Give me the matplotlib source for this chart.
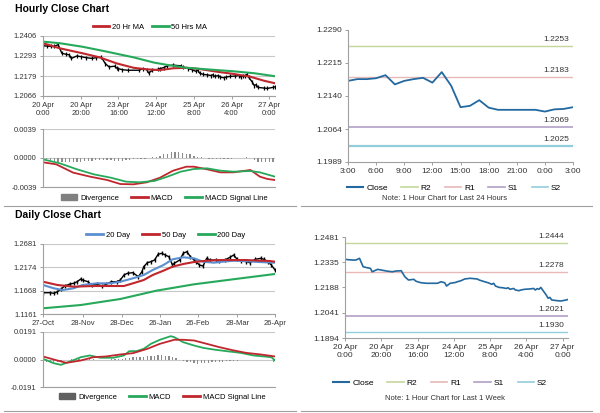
import matplotlib
matplotlib.use('Agg')
import matplotlib.pyplot as plt
from matplotlib.patches import Patch
from matplotlib.lines import Line2D
from matplotlib.ticker import FormatStrFormatter
import numpy as np
import pandas as pd

plt.rcParams['font.family'] = ['Liberation Sans', 'DejaVu Sans']

# ---------------- data: hourly (last week) ----------------
week_hours = [0, 2, 4, 6, 8, 10, 12, 14, 15, 18, 20, 23, 26, 28, 31, 33, 35, 38, 39, 40, 42, 45,
              51, 53, 55, 56, 58, 61, 62, 64, 66, 69, 73, 74, 77, 79, 81, 82, 83, 85, 87, 89,
              90, 91, 93, 94, 96, 97, 99, 102, 104, 105, 106, 107, 108, 109, 111, 112, 113,
              114, 117, 119, 122, 123]
week_close = [1.2351, 1.2349, 1.2347, 1.2347, 1.2357, 1.2308, 1.2303, 1.2299, 1.2279, 1.2293,
              1.2289, 1.2283, 1.2279, 1.2283, 1.2285, 1.2250, 1.2231, 1.2235, 1.2225, 1.2221,
              1.2215, 1.2212, 1.2212, 1.2221, 1.2215, 1.2196, 1.2212, 1.2217, 1.2221, 1.2227,
              1.2237, 1.2241, 1.2237, 1.2231, 1.2221, 1.2215, 1.2206, 1.2212, 1.2196, 1.2188,
              1.2186, 1.2182, 1.2186, 1.2177, 1.2182, 1.2173, 1.2169, 1.2173, 1.2177, 1.2179,
              1.2182, 1.2173, 1.2181, 1.2177, 1.2188, 1.2173, 1.2144, 1.2125, 1.2130, 1.2115,
              1.2111, 1.2109, 1.2115, 1.2118]

ma_hours = [0, 9, 21, 30, 39, 48, 55, 62, 69, 76, 83, 92, 101, 110, 117, 123]
ma20_hr = [1.2365, 1.2336, 1.2308, 1.2285, 1.2251, 1.2226, 1.2217, 1.2213, 1.2223, 1.2226,
           1.2219, 1.2204, 1.2191, 1.2175, 1.2153, 1.2138]
ma50_hours = [0, 9, 21, 34, 48, 59, 66, 76, 87, 101, 112, 123]
ma50_hr = [1.2374, 1.2365, 1.2345, 1.2317, 1.2285, 1.2255, 1.2242, 1.2226, 1.2217, 1.2206,
           1.2195, 1.2178]

macd_h_x = [0, 7, 16, 25, 34, 41, 48, 55, 62, 69, 76, 80, 87, 94, 101, 110, 115, 119, 123]
macd_h = [-0.00058, -0.00085, -0.00197, -0.00251, -0.00296, -0.00350, -0.00354, -0.00327,
          -0.00265, -0.00170, -0.00117, -0.00117, -0.00152, -0.00193, -0.00193, -0.00161,
          -0.00251, -0.00282, -0.00296]
sig_h_x = [0, 9, 18, 27, 36, 44, 51, 59, 66, 73, 80, 87, 94, 101, 110, 115, 123]
sig_h = [-0.00018, -0.00072, -0.00152, -0.00220, -0.00265, -0.00318, -0.00327, -0.00309,
         -0.00251, -0.00184, -0.00148, -0.00139, -0.00170, -0.00184, -0.00175, -0.00193,
         -0.00251]
div_h_x = list(range(0, 124, 2))
div_h = [v * 1e-4 for v in
         [-1, -2, -3, -4, -5, -6, -6, -6, -5, -5, -5, -4, -4, -4, -3, -3, -3, -3, -3, -4, -4,
          -4, -3, -3, -2, -2, -1, -1, 0, 1, 2, 3, 5, 6, 8, 8, 8, 7, 6, 5, 3, 2, 1, 0, -1, -1,
          -1, -1, -1, -1, -1, 0, 0, 0, 1, 0, -3, -5, -6, -6, -6, -5]]

hour_tick_pos = [0, 20, 40, 60, 80, 100, 120]
hour_tick_lbl = ['20 Apr\n0:00', '20 Apr\n20:00', '23 Apr\n16:00', '24 Apr\n12:00',
                 '25 Apr\n8:00', '26 Apr\n4:00', '27 Apr\n0:00']

# ---------------- data: last 24 hours ----------------
close_24h = [1.2174, 1.2178, 1.2178, 1.2180, 1.2187, 1.2166, 1.2174, 1.2178, 1.2181, 1.2170,
             1.2194, 1.2163, 1.2114, 1.2117, 1.2130, 1.2113, 1.2108, 1.2108, 1.2108, 1.2108,
             1.2108, 1.2104, 1.2109, 1.2110, 1.2114]
h24_tick_lbl = ['3:00', '6:00', '9:00', '12:00', '15:00', '18:00', '21:00', '0:00', '3:00']
levels_24h = {'R2': 1.2253, 'R1': 1.2183, 'S1': 1.2069, 'S2': 1.2025}
levels_week = {'R2': 1.2444, 'R1': 1.2278, 'S1': 1.2021, 'S2': 1.1930}

# ---------------- data: daily ----------------
day_x = [0, 4, 6, 8, 10, 12, 15, 17, 19, 21, 22, 25, 27, 30, 33, 35, 38, 41, 43, 45, 47, 50,
         53, 55, 56, 58, 60, 62, 64, 66, 68, 70, 72, 73, 76, 78, 80, 82, 84, 85, 87, 89, 91,
         93, 96, 98, 101, 104, 106, 108, 110, 113, 115, 118, 121, 123, 125, 127, 129]
day_close = [1.1623, 1.1623, 1.1610, 1.1645, 1.1697, 1.1769, 1.1812, 1.1827, 1.1862, 1.1921,
             1.1899, 1.1862, 1.1791, 1.1805, 1.1769, 1.1805, 1.1862, 1.1862, 1.1899, 1.2008,
             1.2045, 1.2058, 1.1971, 1.2080, 1.2188, 1.2275, 1.2297, 1.2333, 1.2457, 1.2479,
             1.2442, 1.2405, 1.2225, 1.2262, 1.2333, 1.2479, 1.2514, 1.2405, 1.2333, 1.2297,
             1.2225, 1.2203, 1.2370, 1.2333, 1.2333, 1.2312, 1.2333, 1.2392, 1.2442, 1.2348,
             1.2318, 1.2297, 1.2275, 1.2348, 1.2370, 1.2348, 1.2297, 1.2225, 1.2116]
ma20_d_x = [0, 6, 11, 17, 22, 30, 37, 43, 50, 56, 61, 67, 72, 78, 84, 89, 95, 100, 106, 111,
            117, 124, 129]
ma20_d = [1.1791, 1.1719, 1.1682, 1.1719, 1.1791, 1.1827, 1.1827, 1.1862, 1.1936, 1.2008,
          1.2116, 1.2225, 1.2348, 1.2392, 1.2370, 1.2297, 1.2275, 1.2297, 1.2318, 1.2312,
          1.2297, 1.2283, 1.2275]
ma50_d_x = [0, 8, 17, 28, 37, 45, 50, 56, 61, 67, 72, 78, 84, 91, 98, 106, 113, 121, 126, 129]
ma50_d = [1.1862, 1.1791, 1.1754, 1.1769, 1.1769, 1.1769, 1.1827, 1.1899, 1.2008, 1.2102,
          1.2188, 1.2247, 1.2290, 1.2318, 1.2333, 1.2333, 1.2333, 1.2318, 1.2312, 1.2297]
ma200_d_x = [0, 21, 43, 63, 84, 107, 129]
ma200_d = [1.1285, 1.1356, 1.1487, 1.1667, 1.1806, 1.1921, 1.2030]

macd_d_x = [0, 6, 10, 15, 21, 26, 32, 39, 45, 48, 52, 56, 60, 65, 71, 73, 78, 84, 89, 95, 102,
            110, 117, 123, 127, 129]
macd_d = [0.0005, -0.0026, -0.0037, -0.0014, 0.0016, 0.0028, 0.0012, 0.0012, 0.0028, 0.0058,
          0.0058, 0.0074, 0.0109, 0.0137, 0.0162, 0.0155, 0.0120, 0.0097, 0.0081, 0.0069,
          0.0058, 0.0046, 0.0028, 0.0021, 0.0016, -0.0007]
sig_d_x = [0, 8, 13, 21, 28, 35, 43, 50, 58, 65, 73, 78, 84, 91, 98, 106, 113, 121, 129]
sig_d = [0.0021, -0.0007, -0.0023, -0.0007, 0.0016, 0.0021, 0.0035, 0.0044, 0.0074, 0.0109,
         0.0137, 0.0137, 0.0132, 0.0109, 0.0086, 0.0063, 0.0046, 0.0035, 0.0021]
div_d_x = list(range(0, 130, 2))
div_d = [v * 1e-4 for v in
         [-10, -15, -18, -20, -18, -12, -6, -2, 2, 4, 6, 6, 5, 4, 2, 0, -1, -1, 0, 1, 2, 3, 5,
          8, 12, 15, 16, 18, 20, 22, 24, 26, 28, 28, 26, 22, 15, 8, 0, -8, -15, -20, -25, -28,
          -26, -24, -22, -20, -18, -16, -14, -12, -10, -8, -8, -6, -6, -5, -5, -4, -4, -4, -5,
          -6, -15]]

day_dates = pd.bdate_range('2017-10-27', '2018-04-26')
day_tick_dates = ['2017-10-27', '2017-11-28', '2017-12-28', '2018-01-26', '2018-02-26',
                  '2018-03-28', '2018-04-26']
day_tick_lbl = ['27-Oct', '28-Nov', '28-Dec', '26-Jan', '26-Feb', '28-Mar', '26-Apr']

# ---------------- style ----------------
W, H = 600, 413
fig = plt.figure(figsize=(6, 4.13), dpi=100)

GRID = '#c8c8c8'
SPINE = '#a0a0a0'
LBL = '#333333'
RED = '#c0272d'
GREEN = '#27a95b'
BLUE = '#5b8fd0'
CLOSE = '#23689f'
LVL_COL = {'R2': '#c4d79b', 'R1': '#e6b8b7', 'S1': '#b1a0c7', 'S2': '#92cddc'}
LVL_LW = {'R2': 1.0, 'R1': 1.0, 'S1': 1.2, 'S2': 1.6}
DIV = '#8c8c8c'


def pax(x0, y0, x1, y1):
    return fig.add_axes([x0 / W, 1 - y1 / H, (x1 - x0) / W, (y1 - y0) / H])


def style(ax, grid=True, fs=5.5):
    for s in ['top', 'right']:
        ax.spines[s].set_visible(False)
    for s in ['left', 'bottom']:
        ax.spines[s].set_color(SPINE)
        ax.spines[s].set_linewidth(0.8)
    ax.tick_params(colors=SPINE, labelcolor=LBL, labelsize=fs, length=2.5, width=0.7, pad=2)
    if grid:
        ax.yaxis.grid(True, color=GRID, lw=0.8)
        ax.set_axisbelow(True)
    ax.yaxis.set_major_formatter(FormatStrFormatter('%.4f'))


def leg(handles, labels, x, y, fs=5.5, hl=2.2, cs=1.0):
    fig.legend(handles, labels, loc='center', bbox_to_anchor=(x / W, 1 - y / H), ncol=len(handles),
               frameon=False, fontsize=fs, handlelength=hl, handletextpad=0.35, columnspacing=cs,
               borderpad=0, borderaxespad=0)


# ---------------- titles & separators ----------------
fig.text(15 / W, 1 - 9 / H, 'Hourly Close Chart', fontsize=7.5, fontweight='bold', va='center')
fig.text(15 / W, 1 - 215 / H, 'Daily Close Chart', fontsize=7.5, fontweight='bold', va='center')
for yy in [206, 411]:
    fig.add_artist(Line2D([4 / W, 296 / W], [1 - yy / H] * 2, color='#a0a0a0', lw=0.8))
    fig.add_artist(Line2D([301 / W, 592 / W], [1 - yy / H] * 2, color='#a0a0a0', lw=0.8))

# ---------------- hourly main ----------------
ax = pax(43, 36, 275, 96)
style(ax)
ax.plot(week_hours, week_close, color='black', lw=1.0, marker='|', ms=3, mew=0.9)
ax.plot(ma_hours, ma20_hr, color=RED, lw=1.5)
ax.plot(ma50_hours, ma50_hr, color=GREEN, lw=1.5)
ax.set_xlim(0, 123)
ax.set_ylim(1.2066, 1.2406)
ax.set_yticks([1.2066, 1.2179, 1.2293, 1.2406])
ax.set_xticks(hour_tick_pos)
ax.set_xticklabels(hour_tick_lbl, linespacing=1.1)
leg([Line2D([], [], color=RED, lw=2), Line2D([], [], color=GREEN, lw=2)],
    ['20 Hr MA', '50 Hrs MA'], 150, 27)

# ---------------- hourly MACD ----------------
ax = pax(43, 129, 275, 187)
style(ax)
ax.bar(div_h_x, div_h, width=0.7, color=DIV)
ax.plot(macd_h_x, macd_h, color=RED, lw=1.3)
ax.plot(sig_h_x, sig_h, color=GREEN, lw=1.3)
ax.set_xlim(0, 123)
ax.set_ylim(-0.0039, 0.0039)
ax.set_yticks([-0.0039, 0.0, 0.0039])
ax.set_xticks([])
leg([Patch(color='#808080'), Line2D([], [], color=RED, lw=2), Line2D([], [], color=GREEN, lw=2)],
    ['Divergence', 'MACD', 'MACD Signal Line'], 164, 198, cs=1.6)

# ---------------- last 24 hours ----------------
ax = pax(348, 30, 573, 162)
style(ax, grid=False, fs=6)
x24 = np.arange(len(close_24h))
for k, v in levels_24h.items():
    ax.axhline(v, color=LVL_COL[k], lw=LVL_LW[k])
    ax.annotate(f'{v:.4f}', xy=(x24[-1], v), xytext=(-3, 2.2), textcoords='offset points',
                ha='right', va='bottom', fontsize=6, color=LBL)
ax.plot(x24, close_24h, color=CLOSE, lw=1.3)
ax.set_xlim(0, x24[-1])
ax.set_ylim(1.1989, 1.2290)
ax.set_yticks([1.1989, 1.2064, 1.2140, 1.2215, 1.2290])
ax.set_xticks(x24[::3])
ax.set_xticklabels(h24_tick_lbl)
lh = [Line2D([], [], color=CLOSE, lw=1.5)] + [Line2D([], [], color=LVL_COL[k], lw=1.2)
                                               for k in ['R2', 'R1', 'S1', 'S2']]
leg(lh, ['Close', 'R2', 'R1', 'S1', 'S2'], 454, 188, fs=6, hl=2.0, cs=1.6)
fig.text(445 / W, 1 - 199 / H, 'Note: 1 Hour Chart for Last 24 Hours', fontsize=5.5,
         ha='center', va='center', color=LBL)

# ---------------- daily main ----------------
ax = pax(43, 244, 275, 314)
style(ax)
ax.plot(day_x, day_close, color='black', lw=1.0, marker='|', ms=3.5, mew=1.0)
ax.plot(ma20_d_x, ma20_d, color=BLUE, lw=1.5)
ax.plot(ma50_d_x, ma50_d, color=RED, lw=1.5)
ax.plot(ma200_d_x, ma200_d, color=GREEN, lw=1.5)
ax.set_xlim(0, len(day_dates) - 1)
ax.set_ylim(1.1161, 1.2681)
ax.set_yticks([1.1161, 1.1668, 1.2174, 1.2681])
dpos = [day_dates.get_loc(pd.Timestamp(d)) for d in day_tick_dates]
ax.set_xticks(dpos)
ax.set_xticklabels(day_tick_lbl)
leg([Line2D([], [], color=BLUE, lw=2), Line2D([], [], color=RED, lw=2),
     Line2D([], [], color=GREEN, lw=2)], ['20 Day', '50 Day', '200 Day'], 166, 235, cs=1.6)

# ---------------- daily MACD ----------------
ax = pax(43, 332, 275, 387)
style(ax)
ax.bar(div_d_x, div_d, width=0.7, color=DIV)
ax.plot(macd_d_x, macd_d, color=GREEN, lw=1.3)
ax.plot(sig_d_x, sig_d, color=RED, lw=1.3)
ax.set_xlim(0, len(day_dates) - 1)
ax.set_ylim(-0.0191, 0.0191)
ax.set_yticks([-0.0191, 0.0, 0.0191])
ax.set_xticks([])
leg([Patch(color='#606060'), Line2D([], [], color=GREEN, lw=2), Line2D([], [], color=RED, lw=2)],
    ['Divergence', 'MACD', 'MACD Signal Line'], 162, 397, cs=1.6)

# ---------------- last week ----------------
ax = pax(345, 237, 568, 338)
style(ax, grid=False, fs=6)
for k, v in levels_week.items():
    ax.axhline(v, color=LVL_COL[k], lw=LVL_LW[k] if k != 'S2' else 1.0)
    ax.annotate(f'{v:.4f}', xy=(123, v), xytext=(-3, 2.2), textcoords='offset points',
                ha='right', va='bottom', fontsize=6, color=LBL)
ax.plot(week_hours, week_close, color=CLOSE, lw=1.2)
ax.set_xlim(0, 123)
ax.set_ylim(1.1894, 1.2481)
ax.set_yticks([1.1894, 1.2041, 1.2188, 1.2335, 1.2481])
ax.set_xticks(hour_tick_pos)
ax.set_xticklabels(hour_tick_lbl, linespacing=1.1)
lh = [Line2D([], [], color=CLOSE, lw=1.5)] + [Line2D([], [], color=LVL_COL[k], lw=1.2)
                                               for k in ['R2', 'R1', 'S1', 'S2']]
leg(lh, ['Close', 'R2', 'R1', 'S1', 'S2'], 440, 383, fs=6, hl=2.0, cs=1.6)
fig.text(445 / W, 1 - 398 / H, 'Note: 1 Hour Chart for Last 1 Week', fontsize=5.5,
         ha='center', va='center', color=LBL)

fig.savefig('out.png', dpi=100)
